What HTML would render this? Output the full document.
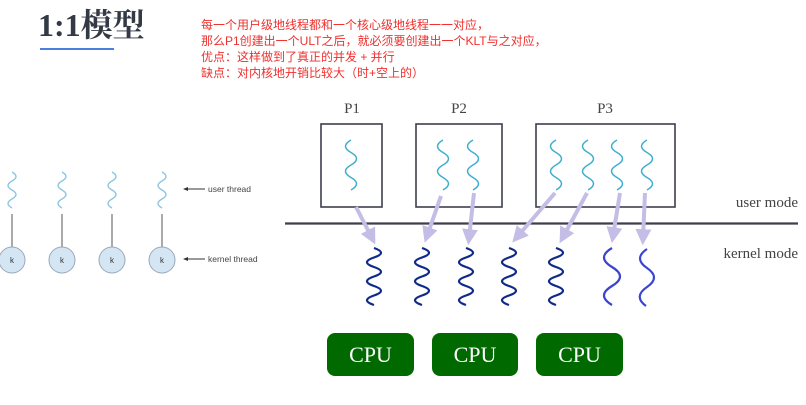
<!DOCTYPE html>
<html><head><meta charset="utf-8"><style>
html,body{margin:0;padding:0;background:#fff;}
svg{display:block}
</style></head><body>
<svg width="806" height="405" viewBox="0 0 806 405" xmlns="http://www.w3.org/2000/svg">
<defs>
<marker id="ah" markerWidth="4" markerHeight="4" refX="2.2" refY="2" orient="auto" markerUnits="strokeWidth">
<path d="M0,0 L4,2 L0,4 Z" fill="#c4bde6"/>
</marker>
</defs>
<text x="38" y="36" font-family="'Liberation Serif','Noto Serif CJK SC',serif" font-weight="bold" font-size="32" fill="#333a45">1:1模型</text>
<rect x="40" y="48" width="74" height="2" fill="#4a7fe0"/>
<g font-family="'Liberation Sans','Noto Sans CJK SC',sans-serif" font-size="12" fill="#f0302e">
<text x="201" y="29">每一个用户级地线程都和一个核心级地线程一一对应，</text>
<text x="201" y="45">那么P1创建出一个ULT之后，就必须要创建出一个KLT与之对应，</text>
<text x="201" y="61">优点：这样做到了真正的并发 + 并行</text>
<text x="201" y="77">缺点：对内核地开销比较大（时+空上的）</text>
</g>
<!-- left figure -->
<g stroke="#8ec6e0" stroke-width="1.4" fill="none">
<path d="M12,172 q8,4.5 0,9 t0,9 t0,9 t0,9"/>
<path d="M62,172 q8,4.5 0,9 t0,9 t0,9 t0,9"/>
<path d="M112,172 q8,4.5 0,9 t0,9 t0,9 t0,9"/>
<path d="M162,172 q8,4.5 0,9 t0,9 t0,9 t0,9"/>
</g>
<g stroke="#555" stroke-width="1">
<line x1="12" y1="214" x2="12" y2="247"/><line x1="62" y1="214" x2="62" y2="247"/>
<line x1="112" y1="214" x2="112" y2="247"/><line x1="162" y1="214" x2="162" y2="247"/>
</g>
<g fill="#d4e6f4" stroke="#9aa8b8" stroke-width="1">
<circle cx="12" cy="260" r="13"/><circle cx="62" cy="260" r="13"/>
<circle cx="112" cy="260" r="13"/><circle cx="162" cy="260" r="13"/>
</g>
<g font-family="'Liberation Sans',sans-serif" font-size="8" fill="#333" text-anchor="middle">
<text x="12" y="263">k</text><text x="62" y="263">k</text><text x="112" y="263">k</text><text x="162" y="263">k</text>
</g>
<g stroke="#333" stroke-width="1"><line x1="184" y1="189" x2="205" y2="189"/><line x1="184" y1="259" x2="205" y2="259"/></g>
<path d="M183,189 l5,-2 v4z M183,259 l5,-2 v4z" fill="#333"/>
<g font-family="'Liberation Sans',sans-serif" font-size="8.5" fill="#444">
<text x="208" y="192">user thread</text><text x="208" y="262">kernel thread</text>
</g>
<!-- right figure -->
<g font-family="'Liberation Serif',serif" font-size="15" fill="#444" text-anchor="middle">
<text x="352" y="113">P1</text><text x="459" y="113">P2</text><text x="605" y="113">P3</text>
</g>
<g fill="none" stroke="#3c3f4e" stroke-width="1.6">
<rect x="321" y="124" width="61" height="83"/>
<rect x="416" y="124" width="86" height="83"/>
<rect x="536" y="124" width="139" height="83"/>
</g>
<line x1="285" y1="223.5" x2="798" y2="223.5" stroke="#3c3f4e" stroke-width="2.2"/>
<g font-family="'Liberation Serif',serif" font-size="15" fill="#444" text-anchor="end">
<text x="798" y="207">user mode</text><text x="798" y="258">kernel mode</text>
</g>
<g stroke="#3eaecc" stroke-width="1.5" fill="none">
<path d="M351,140 q-11,6.25 0,12.5 t0,12.5 t0,12.5 t0,12.5"/>
<path d="M443,140 q-11,6.25 0,12.5 t0,12.5 t0,12.5 t0,12.5"/>
<path d="M473,140 q-11,6.25 0,12.5 t0,12.5 t0,12.5 t0,12.5"/>
<path d="M556,140 q-11,6.25 0,12.5 t0,12.5 t0,12.5 t0,12.5"/>
<path d="M588,140 q-11,6.25 0,12.5 t0,12.5 t0,12.5 t0,12.5"/>
<path d="M617,140 q-11,6.25 0,12.5 t0,12.5 t0,12.5 t0,12.5"/>
<path d="M647,140 q-11,6.25 0,12.5 t0,12.5 t0,12.5 t0,12.5"/>
</g>
<g stroke="#c4bde6" stroke-width="4" fill="none" marker-end="url(#ah)">
<line x1="356" y1="207" x2="372" y2="238"/>
<line x1="441" y1="196" x2="427" y2="236"/>
<line x1="474" y1="193" x2="469" y2="238"/>
<line x1="555" y1="193" x2="517" y2="237"/>
<line x1="587" y1="193" x2="563" y2="237"/>
<line x1="620" y1="193" x2="613" y2="236"/>
<line x1="645" y1="193" x2="643" y2="238"/>
</g>
<g stroke="#102a8a" stroke-width="2.2" fill="none">
<path d="M374,248 q14,4.75 0,9.5 t0,9.5 t0,9.5 t0,9.5 t0,9.5 t0,9.5"/>
<path d="M422,248 q14,4.75 0,9.5 t0,9.5 t0,9.5 t0,9.5 t0,9.5 t0,9.5"/>
<path d="M466,248 q14,4.75 0,9.5 t0,9.5 t0,9.5 t0,9.5 t0,9.5 t0,9.5"/>
<path d="M509,248 q14,4.75 0,9.5 t0,9.5 t0,9.5 t0,9.5 t0,9.5 t0,9.5"/>
<path d="M556,248 q14,4.75 0,9.5 t0,9.5 t0,9.5 t0,9.5 t0,9.5 t0,9.5"/>
</g>
<g stroke="#3a44d0" stroke-width="2.2" fill="none">
<path d="M612,248 q-16,9.5 0,19 t0,19 t0,19"/>
<path d="M647,249 q-14,9.5 0,19 t0,19 t-1,19"/>
</g>
<g fill="#006a00">
<rect x="327" y="333" width="87" height="43" rx="8"/>
<rect x="432" y="333" width="86" height="43" rx="8"/>
<rect x="536" y="333" width="87" height="43" rx="8"/>
</g>
<g font-family="'Liberation Serif',serif" font-size="22" fill="#fff" text-anchor="middle">
<text x="370.5" y="362">CPU</text><text x="475" y="362">CPU</text><text x="579.5" y="362">CPU</text>
</g>
</svg>
</body></html>
